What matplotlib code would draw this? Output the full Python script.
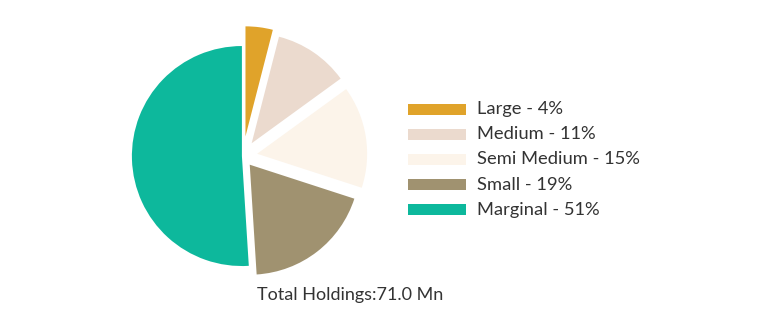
import matplotlib.pyplot as plt
from matplotlib.patches import Rectangle

categories = ["Large", "Medium", "Semi Medium", "Small", "Marginal"]
shares = [4, 11, 15, 19, 51]
colors = ["#E0A32A", "#EBDACE", "#FCF4EA", "#A09270", "#0DB89C"]
explode = [0.18, 0.14, 0.13, 0.1, 0.01]
total_text = "Total Holdings:71.0 Mn"

plt.rcParams["font.family"] = ["Lato", "DejaVu Sans"]

W, H = 762, 317
fig = plt.figure(figsize=(W / 100, H / 100), dpi=100)

# pie axes: centre at (243,155) px from top-left, radius ~110 px
a = 1.4
side = 2 * a * 110
ax = fig.add_axes([(243 - side / 2) / W, (H - 156 - side / 2) / H, side / W, side / H])
ax.pie(shares, colors=colors, explode=explode, startangle=90, counterclock=False,
       radius=1.0, wedgeprops=dict(linewidth=0))
ax.set_xlim(-a, a)
ax.set_ylim(-a, a)
ax.set_aspect("equal")
ax.axis("off")

# legend drawn by hand
for i, (cat, val, col) in enumerate(zip(categories, shares, colors)):
    yc = 109 + i * 25.2
    fig.add_artist(Rectangle((408 / W, (H - yc - 5.5) / H), 58 / W, 11 / H,
                             transform=fig.transFigure, facecolor=col, edgecolor="none"))
    fig.text(477 / W, (H - yc) / H, f"{cat} - {val}%", fontsize=13.2,
             color="#333333", va="center", ha="left")

fig.text(350 / W, (H - 295) / H, total_text, fontsize=13,
         color="#333333", va="center", ha="center")

fig.savefig("out.png", dpi=100)
